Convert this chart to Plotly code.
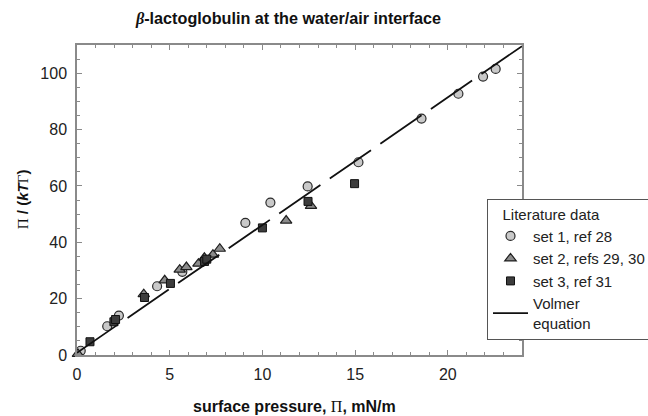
import plotly.graph_objects as go

# ---- data ----
set1_x = [0.2, 1.63, 2.26, 4.32, 5.68, 9.08, 10.43, 12.44, 15.18, 18.58, 20.57, 21.9, 22.58]
set1_y = [1.5, 10.2, 14.0, 24.4, 29.5, 46.9, 54.1, 59.8, 68.4, 83.9, 92.7, 98.8, 101.5]

set2_x = [0.05, 3.6, 4.73, 5.54, 5.9, 6.55, 6.87, 7.33, 7.7, 11.28, 12.62]
set2_y = [0.4, 21.6, 26.5, 30.3, 31.2, 32.4, 34.5, 35.6, 37.7, 47.7, 52.9]

set3_x = [0.7, 1.99, 2.08, 3.64, 5.04, 6.88, 7.0, 10.0, 12.46, 14.97]
set3_y = [4.7, 11.8, 12.6, 20.4, 25.4, 33.2, 34.0, 45.1, 54.5, 60.8]

volmer_x = [0, 6, 12, 18, 24]
volmer_y = [0.8, 28.0, 55.2, 82.4, 109.6]

x_ticks = [0, 5, 10, 15, 20]
y_ticks = [0, 20, 40, 60, 80, 100]

SERIF = "Liberation Serif"
SANS = "'Liberation Sans', Arial, sans-serif"

fig = go.Figure()

fig.add_trace(go.Scatter(
    x=set1_x, y=set1_y, mode="markers", name="set 1, ref 28",
    marker=dict(symbol="circle", size=9, color="#c9c9c9",
                line=dict(color="#2a2a2a", width=1.2)),
    cliponaxis=False))
fig.add_trace(go.Scatter(
    x=set2_x, y=set2_y, mode="markers", name="set 2, refs 29, 30",
    marker=dict(symbol="triangle-up", size=10, color="#8c8c8c",
                line=dict(color="#1e1e1e", width=1.2)),
    cliponaxis=False))
fig.add_trace(go.Scatter(
    x=set3_x, y=set3_y, mode="markers", name="set 3, ref 31",
    marker=dict(symbol="square", size=8, color="#3c3c3c",
                line=dict(color="#111111", width=1)),
    cliponaxis=False))
fig.add_trace(go.Scatter(
    x=volmer_x, y=volmer_y, mode="lines", name="Volmer<br>equation",
    line=dict(color="#111111", width=1.8, dash="50px,11.4px")))

axis_common = dict(
    showline=True, linecolor="#8a8a8a", linewidth=1.5, mirror="ticks",
    ticks="inside", ticklen=5, tickwidth=1, tickcolor="#8a8a8a",
    showgrid=False, zeroline=False,
    tickfont=dict(family=SANS, size=16, color="#222222"),
)

fig.update_xaxes(range=[0, 24], tickvals=x_ticks,
                 minor=dict(dtick=1, ticks="inside", ticklen=3, tickcolor="#8a8a8a"),
                 ticklabelstandoff=4, **axis_common)
fig.update_yaxes(range=[0, 110], tickvals=y_ticks,
                 minor=dict(dtick=5, ticks="inside", ticklen=3, tickcolor="#8a8a8a"),
                 ticklabelstandoff=5, **axis_common)

pa_w, pa_h = 445, 310.3

fig.update_layout(
    width=648, height=416,
    margin=dict(l=77, r=126, t=45, b=61, autoexpand=False),
    paper_bgcolor="white", plot_bgcolor="white",
    font=dict(family=SANS, color="#222222"),
    title=dict(
        text="<b><span style=\"font-family:" + SERIF + "\"><i>β</i></span>-lactoglobulin at the water/air interface</b>",
        x=288.5 / 648, xanchor="center", xref="container",
        y=1 - 18 / 416, yanchor="middle", yref="container",
        font=dict(family=SANS, size=16.2, color="#111111")),
    showlegend=True,
    legend=dict(
        x=(487 - 77) / pa_w, xanchor="left", xref="paper",
        y=1 - (199 - 44.7) / pa_h, yanchor="top", yref="paper",
        bgcolor="white", bordercolor="#555555", borderwidth=1,
        font=dict(family=SANS, size=15, color="#222222"),
        title=dict(text="&nbsp;&nbsp;&nbsp;Literature data",
                   font=dict(family=SANS, size=15, color="#222222")),
        itemwidth=35, tracegroupgap=0,
    ),
    annotations=[
        dict(text="<b>surface pressure, </b><span style=\"font-family:" + SERIF + "\">Π</span><b>, mN/m</b>",
             x=(294.5 - 77) / pa_w, y=(355 - 407) / pa_h, xref="paper", yref="paper",
             xanchor="center", yanchor="middle", showarrow=False,
             font=dict(family=SANS, size=16, color="#111111")),
        dict(text="<span style=\"font-family:" + SERIF + "\">Π</span><b> / (<i>kT</i></b><span style=\"font-family:" + SERIF + "\">Γ</span><b>)</b>",
             x=(22 - 77) / pa_w, y=(355 - 199) / pa_h, xref="paper", yref="paper",
             xanchor="center", yanchor="middle", showarrow=False, textangle=-90,
             font=dict(family=SANS, size=15, color="#111111")),
    ],
)

fig.write_html("out.html")
